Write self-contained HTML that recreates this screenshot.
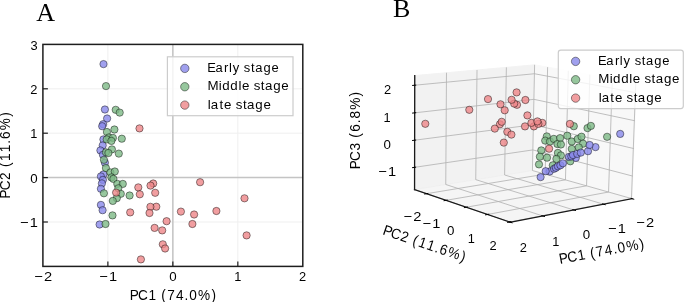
<!DOCTYPE html>
<html><head><meta charset="utf-8"><title>PCA figure</title>
<style>html,body{margin:0;padding:0;background:#fff;width:685px;height:302px;overflow:hidden}</style>
</head><body>
<svg width="685" height="302" viewBox="0 0 685 302" style="display:block"><rect x="0" y="0" width="685" height="302" fill="#fff"/>
<line x1="107.88" y1="44.40" x2="107.88" y2="266.40" stroke="#efefef" stroke-width="1.0"/>
<line x1="172.85" y1="44.40" x2="172.85" y2="266.40" stroke="#efefef" stroke-width="1.0"/>
<line x1="237.83" y1="44.40" x2="237.83" y2="266.40" stroke="#efefef" stroke-width="1.0"/>
<line x1="42.90" y1="222.00" x2="302.80" y2="222.00" stroke="#efefef" stroke-width="1.0"/>
<line x1="42.90" y1="177.60" x2="302.80" y2="177.60" stroke="#efefef" stroke-width="1.0"/>
<line x1="42.90" y1="133.20" x2="302.80" y2="133.20" stroke="#efefef" stroke-width="1.0"/>
<line x1="42.90" y1="88.80" x2="302.80" y2="88.80" stroke="#efefef" stroke-width="1.0"/>
<line x1="42.90" y1="177.60" x2="302.80" y2="177.60" stroke="#c4c4c4" stroke-width="1.5"/>
<line x1="172.85" y1="44.40" x2="172.85" y2="266.40" stroke="#c4c4c4" stroke-width="1.5"/>
<circle cx="103.50" cy="64.10" r="3.65" fill="#8888ea" fill-opacity="0.8" stroke="rgba(0,0,0,0.55)" stroke-width="0.8"/>
<circle cx="104.90" cy="109.50" r="3.65" fill="#8888ea" fill-opacity="0.8" stroke="rgba(0,0,0,0.55)" stroke-width="0.8"/>
<circle cx="107.10" cy="118.50" r="3.65" fill="#8888ea" fill-opacity="0.8" stroke="rgba(0,0,0,0.55)" stroke-width="0.8"/>
<circle cx="103.10" cy="124.20" r="3.65" fill="#8888ea" fill-opacity="0.8" stroke="rgba(0,0,0,0.55)" stroke-width="0.8"/>
<circle cx="102.20" cy="126.20" r="3.65" fill="#8888ea" fill-opacity="0.8" stroke="rgba(0,0,0,0.55)" stroke-width="0.8"/>
<circle cx="103.40" cy="139.40" r="3.65" fill="#8888ea" fill-opacity="0.8" stroke="rgba(0,0,0,0.55)" stroke-width="0.8"/>
<circle cx="102.70" cy="145.40" r="3.65" fill="#8888ea" fill-opacity="0.8" stroke="rgba(0,0,0,0.55)" stroke-width="0.8"/>
<circle cx="100.40" cy="150.40" r="3.65" fill="#8888ea" fill-opacity="0.8" stroke="rgba(0,0,0,0.55)" stroke-width="0.8"/>
<circle cx="102.90" cy="154.80" r="3.65" fill="#8888ea" fill-opacity="0.8" stroke="rgba(0,0,0,0.55)" stroke-width="0.8"/>
<circle cx="104.90" cy="162.70" r="3.65" fill="#8888ea" fill-opacity="0.8" stroke="rgba(0,0,0,0.55)" stroke-width="0.8"/>
<circle cx="103.40" cy="174.40" r="3.65" fill="#8888ea" fill-opacity="0.8" stroke="rgba(0,0,0,0.55)" stroke-width="0.8"/>
<circle cx="100.90" cy="176.40" r="3.65" fill="#8888ea" fill-opacity="0.8" stroke="rgba(0,0,0,0.55)" stroke-width="0.8"/>
<circle cx="102.90" cy="179.90" r="3.65" fill="#8888ea" fill-opacity="0.8" stroke="rgba(0,0,0,0.55)" stroke-width="0.8"/>
<circle cx="101.90" cy="183.40" r="3.65" fill="#8888ea" fill-opacity="0.8" stroke="rgba(0,0,0,0.55)" stroke-width="0.8"/>
<circle cx="100.90" cy="188.80" r="3.65" fill="#8888ea" fill-opacity="0.8" stroke="rgba(0,0,0,0.55)" stroke-width="0.8"/>
<circle cx="100.90" cy="204.90" r="3.65" fill="#8888ea" fill-opacity="0.8" stroke="rgba(0,0,0,0.55)" stroke-width="0.8"/>
<circle cx="102.60" cy="210.20" r="3.65" fill="#8888ea" fill-opacity="0.8" stroke="rgba(0,0,0,0.55)" stroke-width="0.8"/>
<circle cx="99.60" cy="224.50" r="3.65" fill="#8888ea" fill-opacity="0.8" stroke="rgba(0,0,0,0.55)" stroke-width="0.8"/>
<circle cx="106.00" cy="86.10" r="3.65" fill="#7db986" fill-opacity="0.8" stroke="rgba(0,0,0,0.55)" stroke-width="0.8"/>
<circle cx="115.70" cy="109.80" r="3.65" fill="#7db986" fill-opacity="0.8" stroke="rgba(0,0,0,0.55)" stroke-width="0.8"/>
<circle cx="119.70" cy="112.60" r="3.65" fill="#7db986" fill-opacity="0.8" stroke="rgba(0,0,0,0.55)" stroke-width="0.8"/>
<circle cx="114.40" cy="129.50" r="3.65" fill="#7db986" fill-opacity="0.8" stroke="rgba(0,0,0,0.55)" stroke-width="0.8"/>
<circle cx="106.90" cy="132.00" r="3.65" fill="#7db986" fill-opacity="0.8" stroke="rgba(0,0,0,0.55)" stroke-width="0.8"/>
<circle cx="108.90" cy="137.40" r="3.65" fill="#7db986" fill-opacity="0.8" stroke="rgba(0,0,0,0.55)" stroke-width="0.8"/>
<circle cx="106.70" cy="139.40" r="3.65" fill="#7db986" fill-opacity="0.8" stroke="rgba(0,0,0,0.55)" stroke-width="0.8"/>
<circle cx="112.90" cy="137.90" r="3.65" fill="#7db986" fill-opacity="0.8" stroke="rgba(0,0,0,0.55)" stroke-width="0.8"/>
<circle cx="111.40" cy="140.90" r="3.65" fill="#7db986" fill-opacity="0.8" stroke="rgba(0,0,0,0.55)" stroke-width="0.8"/>
<circle cx="121.80" cy="138.70" r="3.65" fill="#7db986" fill-opacity="0.8" stroke="rgba(0,0,0,0.55)" stroke-width="0.8"/>
<circle cx="111.90" cy="149.40" r="3.65" fill="#7db986" fill-opacity="0.8" stroke="rgba(0,0,0,0.55)" stroke-width="0.8"/>
<circle cx="105.90" cy="152.30" r="3.65" fill="#7db986" fill-opacity="0.8" stroke="rgba(0,0,0,0.55)" stroke-width="0.8"/>
<circle cx="108.40" cy="153.00" r="3.65" fill="#7db986" fill-opacity="0.8" stroke="rgba(0,0,0,0.55)" stroke-width="0.8"/>
<circle cx="118.80" cy="153.60" r="3.65" fill="#7db986" fill-opacity="0.8" stroke="rgba(0,0,0,0.55)" stroke-width="0.8"/>
<circle cx="103.90" cy="159.80" r="3.65" fill="#7db986" fill-opacity="0.8" stroke="rgba(0,0,0,0.55)" stroke-width="0.8"/>
<circle cx="105.90" cy="168.00" r="3.65" fill="#7db986" fill-opacity="0.8" stroke="rgba(0,0,0,0.55)" stroke-width="0.8"/>
<circle cx="110.40" cy="172.40" r="3.65" fill="#7db986" fill-opacity="0.8" stroke="rgba(0,0,0,0.55)" stroke-width="0.8"/>
<circle cx="114.80" cy="171.50" r="3.65" fill="#7db986" fill-opacity="0.8" stroke="rgba(0,0,0,0.55)" stroke-width="0.8"/>
<circle cx="111.40" cy="177.40" r="3.65" fill="#7db986" fill-opacity="0.8" stroke="rgba(0,0,0,0.55)" stroke-width="0.8"/>
<circle cx="113.40" cy="178.90" r="3.65" fill="#7db986" fill-opacity="0.8" stroke="rgba(0,0,0,0.55)" stroke-width="0.8"/>
<circle cx="117.30" cy="183.90" r="3.65" fill="#7db986" fill-opacity="0.8" stroke="rgba(0,0,0,0.55)" stroke-width="0.8"/>
<circle cx="122.80" cy="183.90" r="3.65" fill="#7db986" fill-opacity="0.8" stroke="rgba(0,0,0,0.55)" stroke-width="0.8"/>
<circle cx="118.30" cy="188.30" r="3.65" fill="#7db986" fill-opacity="0.8" stroke="rgba(0,0,0,0.55)" stroke-width="0.8"/>
<circle cx="103.90" cy="193.30" r="3.65" fill="#7db986" fill-opacity="0.8" stroke="rgba(0,0,0,0.55)" stroke-width="0.8"/>
<circle cx="120.80" cy="193.80" r="3.65" fill="#7db986" fill-opacity="0.8" stroke="rgba(0,0,0,0.55)" stroke-width="0.8"/>
<circle cx="129.60" cy="195.50" r="3.65" fill="#7db986" fill-opacity="0.8" stroke="rgba(0,0,0,0.55)" stroke-width="0.8"/>
<circle cx="116.80" cy="198.20" r="3.65" fill="#7db986" fill-opacity="0.8" stroke="rgba(0,0,0,0.55)" stroke-width="0.8"/>
<circle cx="112.80" cy="200.90" r="3.65" fill="#7db986" fill-opacity="0.8" stroke="rgba(0,0,0,0.55)" stroke-width="0.8"/>
<circle cx="112.50" cy="215.40" r="3.65" fill="#7db986" fill-opacity="0.8" stroke="rgba(0,0,0,0.55)" stroke-width="0.8"/>
<circle cx="105.50" cy="224.00" r="3.65" fill="#7db986" fill-opacity="0.8" stroke="rgba(0,0,0,0.55)" stroke-width="0.8"/>
<circle cx="139.50" cy="128.40" r="3.65" fill="#ee8688" fill-opacity="0.8" stroke="rgba(0,0,0,0.55)" stroke-width="0.8"/>
<circle cx="138.30" cy="187.40" r="3.65" fill="#ee8688" fill-opacity="0.8" stroke="rgba(0,0,0,0.55)" stroke-width="0.8"/>
<circle cx="139.80" cy="194.30" r="3.65" fill="#ee8688" fill-opacity="0.8" stroke="rgba(0,0,0,0.55)" stroke-width="0.8"/>
<circle cx="153.20" cy="183.50" r="3.65" fill="#ee8688" fill-opacity="0.8" stroke="rgba(0,0,0,0.55)" stroke-width="0.8"/>
<circle cx="150.50" cy="185.60" r="3.65" fill="#ee8688" fill-opacity="0.8" stroke="rgba(0,0,0,0.55)" stroke-width="0.8"/>
<circle cx="155.20" cy="192.80" r="3.65" fill="#ee8688" fill-opacity="0.8" stroke="rgba(0,0,0,0.55)" stroke-width="0.8"/>
<circle cx="116.10" cy="192.60" r="3.65" fill="#ee8688" fill-opacity="0.8" stroke="rgba(0,0,0,0.55)" stroke-width="0.8"/>
<circle cx="130.20" cy="212.40" r="3.65" fill="#ee8688" fill-opacity="0.8" stroke="rgba(0,0,0,0.55)" stroke-width="0.8"/>
<circle cx="156.30" cy="206.70" r="3.65" fill="#ee8688" fill-opacity="0.8" stroke="rgba(0,0,0,0.55)" stroke-width="0.8"/>
<circle cx="150.40" cy="206.80" r="3.65" fill="#ee8688" fill-opacity="0.8" stroke="rgba(0,0,0,0.55)" stroke-width="0.8"/>
<circle cx="149.50" cy="213.00" r="3.65" fill="#ee8688" fill-opacity="0.8" stroke="rgba(0,0,0,0.55)" stroke-width="0.8"/>
<circle cx="166.60" cy="221.20" r="3.65" fill="#ee8688" fill-opacity="0.8" stroke="rgba(0,0,0,0.55)" stroke-width="0.8"/>
<circle cx="154.60" cy="227.90" r="3.65" fill="#ee8688" fill-opacity="0.8" stroke="rgba(0,0,0,0.55)" stroke-width="0.8"/>
<circle cx="162.20" cy="230.40" r="3.65" fill="#ee8688" fill-opacity="0.8" stroke="rgba(0,0,0,0.55)" stroke-width="0.8"/>
<circle cx="162.80" cy="244.30" r="3.65" fill="#ee8688" fill-opacity="0.8" stroke="rgba(0,0,0,0.55)" stroke-width="0.8"/>
<circle cx="165.10" cy="248.50" r="3.65" fill="#ee8688" fill-opacity="0.8" stroke="rgba(0,0,0,0.55)" stroke-width="0.8"/>
<circle cx="140.90" cy="259.40" r="3.65" fill="#ee8688" fill-opacity="0.8" stroke="rgba(0,0,0,0.55)" stroke-width="0.8"/>
<circle cx="180.90" cy="211.60" r="3.65" fill="#ee8688" fill-opacity="0.8" stroke="rgba(0,0,0,0.55)" stroke-width="0.8"/>
<circle cx="194.10" cy="214.50" r="3.65" fill="#ee8688" fill-opacity="0.8" stroke="rgba(0,0,0,0.55)" stroke-width="0.8"/>
<circle cx="192.40" cy="224.00" r="3.65" fill="#ee8688" fill-opacity="0.8" stroke="rgba(0,0,0,0.55)" stroke-width="0.8"/>
<circle cx="200.10" cy="182.20" r="3.65" fill="#ee8688" fill-opacity="0.8" stroke="rgba(0,0,0,0.55)" stroke-width="0.8"/>
<circle cx="216.40" cy="211.00" r="3.65" fill="#ee8688" fill-opacity="0.8" stroke="rgba(0,0,0,0.55)" stroke-width="0.8"/>
<circle cx="244.50" cy="198.30" r="3.65" fill="#ee8688" fill-opacity="0.8" stroke="rgba(0,0,0,0.55)" stroke-width="0.8"/>
<circle cx="246.60" cy="235.40" r="3.65" fill="#ee8688" fill-opacity="0.8" stroke="rgba(0,0,0,0.55)" stroke-width="0.8"/>
<line x1="107.88" y1="266.40" x2="107.88" y2="261.40" stroke="#1e1e1e" stroke-width="1.2"/>
<line x1="172.85" y1="266.40" x2="172.85" y2="261.40" stroke="#1e1e1e" stroke-width="1.2"/>
<line x1="237.83" y1="266.40" x2="237.83" y2="261.40" stroke="#1e1e1e" stroke-width="1.2"/>
<line x1="42.90" y1="222.00" x2="47.90" y2="222.00" stroke="#1e1e1e" stroke-width="1.2"/>
<line x1="42.90" y1="177.60" x2="47.90" y2="177.60" stroke="#1e1e1e" stroke-width="1.2"/>
<line x1="42.90" y1="133.20" x2="47.90" y2="133.20" stroke="#1e1e1e" stroke-width="1.2"/>
<line x1="42.90" y1="88.80" x2="47.90" y2="88.80" stroke="#1e1e1e" stroke-width="1.2"/>
<rect x="42.9" y="44.4" width="259.90000000000003" height="221.99999999999997" fill="none" stroke="#1e1e1e" stroke-width="1.5"/>
<rect x="167.4" y="56.8" width="125.6" height="58.9" rx="0" fill="#fff" fill-opacity="0.8" stroke="#cccccc" stroke-width="1.2"/>
<circle cx="184.80" cy="68.40" r="4.20" fill="#8888ea" fill-opacity="0.8" stroke="rgba(0,0,0,0.55)" stroke-width="0.8"/>
<circle cx="184.80" cy="86.75" r="4.20" fill="#7db986" fill-opacity="0.8" stroke="rgba(0,0,0,0.55)" stroke-width="0.8"/>
<circle cx="184.80" cy="105.10" r="4.20" fill="#ee8688" fill-opacity="0.8" stroke="rgba(0,0,0,0.55)" stroke-width="0.8"/>
<g id="ax3d"> <g id="pane3d_1"> <g id="patch_3"> <path d="M 532.424653 170.516961 L 632.010458 198.673229 L 636.315801 82.919027 L 534.622697 64.818701 " style="fill: #f2f2f2; opacity: 0.5; stroke: #f2f2f2; stroke-linejoin: miter"/> </g> </g> <g id="pane3d_2"> <g id="patch_4"> <path d="M 532.424653 170.516961 L 414.558358 189.51649 L 414.739932 75.593142 L 534.622697 64.818701 " style="fill: #e6e6e6; opacity: 0.5; stroke: #e6e6e6; stroke-linejoin: miter"/> </g> </g> <g id="pane3d_3"> <g id="patch_5"> <path d="M 532.424653 170.516961 L 414.558358 189.51649 L 510.317033 222.189161 L 632.010458 198.673229 " style="fill: #ececec; opacity: 0.5; stroke: #ececec; stroke-linejoin: miter"/> </g> </g> <g id="grid3d_1"> <g id="Line3DCollection_1"> <path d="M 632.010458 198.673229 L 532.424653 170.516961 L 534.622697 64.818701 " style="fill: none; stroke: #b0b0b0; stroke-width: 0.8"/> <path d="M 603.474852 204.187425 L 504.619707 174.998996 L 506.371727 67.357751 " style="fill: none; stroke: #b0b0b0; stroke-width: 0.8"/> <path d="M 573.733905 209.93454 L 475.749451 179.652755 L 477.018988 69.995823 " style="fill: none; stroke: #b0b0b0; stroke-width: 0.8"/> <path d="M 542.709598 215.92965 L 445.751466 184.488298 L 446.498746 72.738824 " style="fill: none; stroke: #b0b0b0; stroke-width: 0.8"/> <path d="M 510.317033 222.189161 L 414.558358 189.51649 L 414.739932 75.593142 " style="fill: none; stroke: #b0b0b0; stroke-width: 0.8"/> </g> </g> <g id="grid3d_2"> <g id="Line3DCollection_2"> <path d="M 547.614573 67.131121 L 545.16613 174.119407 L 426.726385 193.668197 " style="fill: none; stroke: #b0b0b0; stroke-width: 0.8"/> <path d="M 568.319838 70.816445 L 565.460925 179.85743 L 446.158285 200.298323 " style="fill: none; stroke: #b0b0b0; stroke-width: 0.8"/> <path d="M 589.87628 74.65327 L 586.575141 185.827132 L 466.440905 207.218713 " style="fill: none; stroke: #b0b0b0; stroke-width: 0.8"/> <path d="M 612.337488 78.651134 L 608.559428 192.042831 L 487.631362 214.448855 " style="fill: none; stroke: #b0b0b0; stroke-width: 0.8"/> <path d="M 635.761644 82.820393 L 631.468698 198.520055 L 509.792002 222.010022 " style="fill: none; stroke: #b0b0b0; stroke-width: 0.8"/> </g> </g> <g id="grid3d_3"> <g id="Line3DCollection_3"> <path d="M 414.593717 167.331455 L 532.853166 149.910879 L 632.848648 176.137497 " style="fill: none; stroke: #b0b0b0; stroke-width: 0.8"/> <path d="M 414.636951 140.205376 L 533.376806 124.730394 L 633.873663 148.578778 " style="fill: none; stroke: #b0b0b0; stroke-width: 0.8"/> <path d="M 414.680569 112.838548 L 533.904746 99.343113 L 634.907934 120.771194 " style="fill: none; stroke: #b0b0b0; stroke-width: 0.8"/> <path d="M 414.724576 85.227755 L 534.43704 73.746478 L 635.951587 92.71136 " style="fill: none; stroke: #b0b0b0; stroke-width: 0.8"/> </g> </g> <g id="axis3d_1"> <g id="line2d_1"> <path d="M 632.010458 198.673229 L 510.317033 222.189161 " style="fill: none; stroke: #1a1a1a; stroke-width: 1.3; stroke-linecap: square"/> </g> <g id="xtick_1"> <g id="line2d_2"> <path d="M 631.136127 198.426026 L 633.763253 199.168803 " style="fill: none; stroke: #000000; stroke-linecap: square"/> </g> </g> <g id="xtick_2"> <g id="line2d_3"> <path d="M 602.605343 203.930689 L 605.218065 204.702134 " style="fill: none; stroke: #000000; stroke-linecap: square"/> </g> </g> <g id="xtick_3"> <g id="line2d_4"> <path d="M 572.870409 209.667679 L 575.465152 210.469576 " style="fill: none; stroke: #000000; stroke-linecap: square"/> </g> </g> <g id="xtick_4"> <g id="line2d_5"> <path d="M 541.853448 215.65202 L 544.426208 216.486308 " style="fill: none; stroke: #000000; stroke-linecap: square"/> </g> </g> <g id="xtick_5"> <g id="line2d_6"> <path d="M 509.469723 221.900061 L 512.016012 222.76885 " style="fill: none; stroke: #000000; stroke-linecap: square"/> </g> </g> </g> <g id="axis3d_2"> <g id="line2d_7"> <path d="M 414.558358 189.51649 L 510.317033 222.189161 " style="fill: none; stroke: #1a1a1a; stroke-width: 1.3; stroke-linecap: square"/> </g> <g id="xtick_6"> <g id="line2d_8"> <path d="M 427.749767 193.499285 L 424.67565 194.006676 " style="fill: none; stroke: #000000; stroke-linecap: square"/> </g> </g> <g id="xtick_7"> <g id="line2d_9"> <path d="M 447.190758 200.121422 L 444.089244 200.652825 " style="fill: none; stroke: #000000; stroke-linecap: square"/> </g> </g> <g id="xtick_8"> <g id="line2d_10"> <path d="M 467.482294 207.033279 L 464.353906 207.590332 " style="fill: none; stroke: #000000; stroke-linecap: square"/> </g> </g> <g id="xtick_9"> <g id="line2d_11"> <path d="M 488.68144 214.254292 L 485.526854 214.838786 " style="fill: none; stroke: #000000; stroke-linecap: square"/> </g> </g> <g id="xtick_10"> <g id="line2d_12"> <path d="M 510.850484 221.805679 L 507.670552 222.419573 " style="fill: none; stroke: #000000; stroke-linecap: square"/> </g> </g> </g> <g id="axis3d_3"> <g id="line2d_13"> <path d="M 414.558358 189.51649 L 414.739932 75.593142 " style="fill: none; stroke: #1a1a1a; stroke-width: 1.3; stroke-linecap: square"/> </g> <g id="xtick_11"> <g id="line2d_14"> <path d="M 415.614796 167.181042 L 412.547634 167.63286 " style="fill: none; stroke: #000000; stroke-linecap: square"/> </g> </g> <g id="xtick_12"> <g id="line2d_15"> <path d="M 415.662511 140.071718 L 412.581873 140.473207 " style="fill: none; stroke: #000000; stroke-linecap: square"/> </g> </g> <g id="xtick_13"> <g id="line2d_16"> <path d="M 415.710649 112.72195 L 412.616416 113.072198 " style="fill: none; stroke: #000000; stroke-linecap: square"/> </g> </g> <g id="xtick_14"> <g id="line2d_17"> <path d="M 415.759216 85.128525 L 412.651267 85.4266 " style="fill: none; stroke: #000000; stroke-linecap: square"/> </g> </g> </g> <g id="axes_1"/> </g>
<circle cx="573.80" cy="126.20" r="3.65" fill="#7db986" fill-opacity="0.8" stroke="rgba(0,0,0,0.55)" stroke-width="0.8"/>
<circle cx="587.50" cy="128.10" r="3.65" fill="#7db986" fill-opacity="0.8" stroke="rgba(0,0,0,0.55)" stroke-width="0.8"/>
<circle cx="590.90" cy="125.90" r="3.65" fill="#7db986" fill-opacity="0.8" stroke="rgba(0,0,0,0.55)" stroke-width="0.8"/>
<circle cx="607.10" cy="136.80" r="3.65" fill="#7db986" fill-opacity="0.8" stroke="rgba(0,0,0,0.55)" stroke-width="0.8"/>
<circle cx="546.80" cy="136.40" r="3.65" fill="#7db986" fill-opacity="0.8" stroke="rgba(0,0,0,0.55)" stroke-width="0.8"/>
<circle cx="545.20" cy="140.60" r="3.65" fill="#7db986" fill-opacity="0.8" stroke="rgba(0,0,0,0.55)" stroke-width="0.8"/>
<circle cx="550.00" cy="141.50" r="3.65" fill="#7db986" fill-opacity="0.8" stroke="rgba(0,0,0,0.55)" stroke-width="0.8"/>
<circle cx="553.80" cy="138.90" r="3.65" fill="#7db986" fill-opacity="0.8" stroke="rgba(0,0,0,0.55)" stroke-width="0.8"/>
<circle cx="560.10" cy="138.10" r="3.65" fill="#7db986" fill-opacity="0.8" stroke="rgba(0,0,0,0.55)" stroke-width="0.8"/>
<circle cx="557.40" cy="144.00" r="3.65" fill="#7db986" fill-opacity="0.8" stroke="rgba(0,0,0,0.55)" stroke-width="0.8"/>
<circle cx="560.90" cy="144.50" r="3.65" fill="#7db986" fill-opacity="0.8" stroke="rgba(0,0,0,0.55)" stroke-width="0.8"/>
<circle cx="567.30" cy="135.70" r="3.65" fill="#7db986" fill-opacity="0.8" stroke="rgba(0,0,0,0.55)" stroke-width="0.8"/>
<circle cx="571.80" cy="141.50" r="3.65" fill="#7db986" fill-opacity="0.8" stroke="rgba(0,0,0,0.55)" stroke-width="0.8"/>
<circle cx="577.70" cy="139.00" r="3.65" fill="#7db986" fill-opacity="0.8" stroke="rgba(0,0,0,0.55)" stroke-width="0.8"/>
<circle cx="581.50" cy="136.70" r="3.65" fill="#7db986" fill-opacity="0.8" stroke="rgba(0,0,0,0.55)" stroke-width="0.8"/>
<circle cx="583.10" cy="143.70" r="3.65" fill="#7db986" fill-opacity="0.8" stroke="rgba(0,0,0,0.55)" stroke-width="0.8"/>
<circle cx="571.80" cy="148.90" r="3.65" fill="#7db986" fill-opacity="0.8" stroke="rgba(0,0,0,0.55)" stroke-width="0.8"/>
<circle cx="578.80" cy="147.40" r="3.65" fill="#7db986" fill-opacity="0.8" stroke="rgba(0,0,0,0.55)" stroke-width="0.8"/>
<circle cx="541.30" cy="150.40" r="3.65" fill="#7db986" fill-opacity="0.8" stroke="rgba(0,0,0,0.55)" stroke-width="0.8"/>
<circle cx="539.90" cy="156.70" r="3.65" fill="#7db986" fill-opacity="0.8" stroke="rgba(0,0,0,0.55)" stroke-width="0.8"/>
<circle cx="547.00" cy="157.70" r="3.65" fill="#7db986" fill-opacity="0.8" stroke="rgba(0,0,0,0.55)" stroke-width="0.8"/>
<circle cx="557.90" cy="152.90" r="3.65" fill="#7db986" fill-opacity="0.8" stroke="rgba(0,0,0,0.55)" stroke-width="0.8"/>
<circle cx="560.90" cy="155.40" r="3.65" fill="#7db986" fill-opacity="0.8" stroke="rgba(0,0,0,0.55)" stroke-width="0.8"/>
<circle cx="556.40" cy="158.90" r="3.65" fill="#7db986" fill-opacity="0.8" stroke="rgba(0,0,0,0.55)" stroke-width="0.8"/>
<circle cx="539.00" cy="164.40" r="3.65" fill="#7db986" fill-opacity="0.8" stroke="rgba(0,0,0,0.55)" stroke-width="0.8"/>
<circle cx="552.80" cy="165.30" r="3.65" fill="#7db986" fill-opacity="0.8" stroke="rgba(0,0,0,0.55)" stroke-width="0.8"/>
<circle cx="570.30" cy="161.30" r="3.65" fill="#7db986" fill-opacity="0.8" stroke="rgba(0,0,0,0.55)" stroke-width="0.8"/>
<circle cx="425.30" cy="123.80" r="3.65" fill="#ee8688" fill-opacity="0.8" stroke="rgba(0,0,0,0.55)" stroke-width="0.8"/>
<circle cx="469.30" cy="109.80" r="3.65" fill="#ee8688" fill-opacity="0.8" stroke="rgba(0,0,0,0.55)" stroke-width="0.8"/>
<circle cx="488.00" cy="99.10" r="3.65" fill="#ee8688" fill-opacity="0.8" stroke="rgba(0,0,0,0.55)" stroke-width="0.8"/>
<circle cx="516.60" cy="92.40" r="3.65" fill="#ee8688" fill-opacity="0.8" stroke="rgba(0,0,0,0.55)" stroke-width="0.8"/>
<circle cx="517.00" cy="104.80" r="3.65" fill="#ee8688" fill-opacity="0.8" stroke="rgba(0,0,0,0.55)" stroke-width="0.8"/>
<circle cx="514.20" cy="103.60" r="3.65" fill="#ee8688" fill-opacity="0.8" stroke="rgba(0,0,0,0.55)" stroke-width="0.8"/>
<circle cx="511.60" cy="99.80" r="3.65" fill="#ee8688" fill-opacity="0.8" stroke="rgba(0,0,0,0.55)" stroke-width="0.8"/>
<circle cx="525.40" cy="100.00" r="3.65" fill="#ee8688" fill-opacity="0.8" stroke="rgba(0,0,0,0.55)" stroke-width="0.8"/>
<circle cx="500.50" cy="104.30" r="3.65" fill="#ee8688" fill-opacity="0.8" stroke="rgba(0,0,0,0.55)" stroke-width="0.8"/>
<circle cx="504.70" cy="110.30" r="3.65" fill="#ee8688" fill-opacity="0.8" stroke="rgba(0,0,0,0.55)" stroke-width="0.8"/>
<circle cx="527.40" cy="115.40" r="3.65" fill="#ee8688" fill-opacity="0.8" stroke="rgba(0,0,0,0.55)" stroke-width="0.8"/>
<circle cx="499.90" cy="124.30" r="3.65" fill="#ee8688" fill-opacity="0.8" stroke="rgba(0,0,0,0.55)" stroke-width="0.8"/>
<circle cx="501.70" cy="121.80" r="3.65" fill="#ee8688" fill-opacity="0.8" stroke="rgba(0,0,0,0.55)" stroke-width="0.8"/>
<circle cx="494.80" cy="128.60" r="3.65" fill="#ee8688" fill-opacity="0.8" stroke="rgba(0,0,0,0.55)" stroke-width="0.8"/>
<circle cx="525.00" cy="126.40" r="3.65" fill="#ee8688" fill-opacity="0.8" stroke="rgba(0,0,0,0.55)" stroke-width="0.8"/>
<circle cx="507.30" cy="131.80" r="3.65" fill="#ee8688" fill-opacity="0.8" stroke="rgba(0,0,0,0.55)" stroke-width="0.8"/>
<circle cx="511.40" cy="134.60" r="3.65" fill="#ee8688" fill-opacity="0.8" stroke="rgba(0,0,0,0.55)" stroke-width="0.8"/>
<circle cx="503.80" cy="142.60" r="3.65" fill="#ee8688" fill-opacity="0.8" stroke="rgba(0,0,0,0.55)" stroke-width="0.8"/>
<circle cx="533.90" cy="126.40" r="3.65" fill="#ee8688" fill-opacity="0.8" stroke="rgba(0,0,0,0.55)" stroke-width="0.8"/>
<circle cx="531.40" cy="122.90" r="3.65" fill="#ee8688" fill-opacity="0.8" stroke="rgba(0,0,0,0.55)" stroke-width="0.8"/>
<circle cx="542.30" cy="122.90" r="3.65" fill="#ee8688" fill-opacity="0.8" stroke="rgba(0,0,0,0.55)" stroke-width="0.8"/>
<circle cx="538.40" cy="123.90" r="3.65" fill="#ee8688" fill-opacity="0.8" stroke="rgba(0,0,0,0.55)" stroke-width="0.8"/>
<circle cx="537.40" cy="121.40" r="3.65" fill="#ee8688" fill-opacity="0.8" stroke="rgba(0,0,0,0.55)" stroke-width="0.8"/>
<circle cx="569.90" cy="123.90" r="3.65" fill="#ee8688" fill-opacity="0.8" stroke="rgba(0,0,0,0.55)" stroke-width="0.8"/>
<circle cx="549.10" cy="148.70" r="3.65" fill="#ee8688" fill-opacity="0.8" stroke="rgba(0,0,0,0.55)" stroke-width="0.8"/>
<circle cx="540.60" cy="177.10" r="3.65" fill="#8888ea" fill-opacity="0.8" stroke="rgba(0,0,0,0.55)" stroke-width="0.8"/>
<circle cx="549.70" cy="171.50" r="3.65" fill="#8888ea" fill-opacity="0.8" stroke="rgba(0,0,0,0.55)" stroke-width="0.8"/>
<circle cx="545.70" cy="171.20" r="3.65" fill="#8888ea" fill-opacity="0.8" stroke="rgba(0,0,0,0.55)" stroke-width="0.8"/>
<circle cx="554.00" cy="168.80" r="3.65" fill="#8888ea" fill-opacity="0.8" stroke="rgba(0,0,0,0.55)" stroke-width="0.8"/>
<circle cx="555.90" cy="167.80" r="3.65" fill="#8888ea" fill-opacity="0.8" stroke="rgba(0,0,0,0.55)" stroke-width="0.8"/>
<circle cx="557.90" cy="166.30" r="3.65" fill="#8888ea" fill-opacity="0.8" stroke="rgba(0,0,0,0.55)" stroke-width="0.8"/>
<circle cx="560.40" cy="165.30" r="3.65" fill="#8888ea" fill-opacity="0.8" stroke="rgba(0,0,0,0.55)" stroke-width="0.8"/>
<circle cx="562.90" cy="163.30" r="3.65" fill="#8888ea" fill-opacity="0.8" stroke="rgba(0,0,0,0.55)" stroke-width="0.8"/>
<circle cx="575.80" cy="157.90" r="3.65" fill="#8888ea" fill-opacity="0.8" stroke="rgba(0,0,0,0.55)" stroke-width="0.8"/>
<circle cx="568.90" cy="156.90" r="3.65" fill="#8888ea" fill-opacity="0.8" stroke="rgba(0,0,0,0.55)" stroke-width="0.8"/>
<circle cx="571.30" cy="156.40" r="3.65" fill="#8888ea" fill-opacity="0.8" stroke="rgba(0,0,0,0.55)" stroke-width="0.8"/>
<circle cx="573.00" cy="155.00" r="3.65" fill="#8888ea" fill-opacity="0.8" stroke="rgba(0,0,0,0.55)" stroke-width="0.8"/>
<circle cx="577.20" cy="153.90" r="3.65" fill="#8888ea" fill-opacity="0.8" stroke="rgba(0,0,0,0.55)" stroke-width="0.8"/>
<circle cx="580.80" cy="152.60" r="3.65" fill="#8888ea" fill-opacity="0.8" stroke="rgba(0,0,0,0.55)" stroke-width="0.8"/>
<circle cx="588.00" cy="151.20" r="3.65" fill="#8888ea" fill-opacity="0.8" stroke="rgba(0,0,0,0.55)" stroke-width="0.8"/>
<circle cx="595.50" cy="147.10" r="3.65" fill="#8888ea" fill-opacity="0.8" stroke="rgba(0,0,0,0.55)" stroke-width="0.8"/>
<circle cx="589.60" cy="145.00" r="3.65" fill="#8888ea" fill-opacity="0.8" stroke="rgba(0,0,0,0.55)" stroke-width="0.8"/>
<circle cx="620.20" cy="133.90" r="3.65" fill="#8888ea" fill-opacity="0.8" stroke="rgba(0,0,0,0.55)" stroke-width="0.8"/>
<rect x="558.3" y="50.1" width="125.0" height="58.5" rx="2.5" fill="#fff" fill-opacity="0.8" stroke="#cccccc" stroke-width="1.2"/>
<circle cx="575.60" cy="61.40" r="4.20" fill="#8888ea" fill-opacity="0.8" stroke="rgba(0,0,0,0.55)" stroke-width="0.8"/>
<circle cx="575.60" cy="79.75" r="4.20" fill="#7db986" fill-opacity="0.8" stroke="rgba(0,0,0,0.55)" stroke-width="0.8"/>
<circle cx="575.60" cy="98.10" r="4.20" fill="#ee8688" fill-opacity="0.8" stroke="rgba(0,0,0,0.55)" stroke-width="0.8"/>
<g opacity="0.999">
<text x="-7.65 0.99" y="0" font-family='"Liberation Sans", sans-serif' font-size="13.46" fill="#000" transform="translate(42.90 280.90) scale(1.0896 1)">−2</text>
<text x="-7.65 1.06" y="0" font-family='"Liberation Sans", sans-serif' font-size="13.46" fill="#000" transform="translate(107.88 280.90) scale(1.0893 1)">−1</text>
<text x="-3.74" y="0" font-family='"Liberation Sans", sans-serif' font-size="13.46" fill="#000" transform="translate(172.85 280.90) scale(0.9906 1)">0</text>
<text x="-3.81" y="0" font-family='"Liberation Sans", sans-serif' font-size="13.46" fill="#000" transform="translate(237.83 280.90) scale(0.9478 1)">1</text>
<text x="-3.92" y="0" font-family='"Liberation Sans", sans-serif' font-size="13.46" fill="#000" transform="translate(302.80 280.90) scale(0.9558 1)">2</text>
<text x="-16.25 -7.54" y="0" font-family='"Liberation Sans", sans-serif' font-size="13.46" fill="#000" transform="translate(38.00 227.10) scale(1.0893 1)">−1</text>
<text x="-7.82" y="0" font-family='"Liberation Sans", sans-serif' font-size="13.46" fill="#000" transform="translate(38.00 182.70) scale(0.9906 1)">0</text>
<text x="-8.07" y="0" font-family='"Liberation Sans", sans-serif' font-size="13.46" fill="#000" transform="translate(38.00 138.30) scale(0.9478 1)">1</text>
<text x="-8.14" y="0" font-family='"Liberation Sans", sans-serif' font-size="13.46" fill="#000" transform="translate(38.00 93.90) scale(0.9558 1)">2</text>
<text x="-7.96" y="0" font-family='"Liberation Sans", sans-serif' font-size="13.46" fill="#000" transform="translate(38.00 49.50) scale(0.9553 1)">3</text>
<text x="-46.79 -37.77 -26.51 -17.56 -12.67 -6.29 3.31 12.53 17.66 27.12 41.66" y="0" font-family='"Liberation Sans", sans-serif' font-size="14.73" fill="#000" transform="translate(173.00 299.60) scale(0.9249 1)">PC1 (74.0%)</text>
<text x="-46.95 -37.89 -26.72 -17.63 -12.71 -6.32 3.28 12.58 17.76 27.25 41.82" y="0" font-family='"Liberation Sans", sans-serif' font-size="14.73" fill="#000" transform="translate(10.20 155.30) rotate(-90.00) scale(0.9215 1)">PC2 (11.6%)</text>
<text x="-0.36 8.16 17.17 22.18 26.06 33.33 37.69 45.09 49.40 58.02 66.38" y="0" font-family='"Liberation Sans", sans-serif' font-size="13.46" fill="#000" transform="translate(207.60 71.90) scale(0.9622 1)">Early stage</text>
<text x="-0.07 11.37 14.88 23.02 31.20 34.71 42.38 46.52 53.76 57.88 66.28 74.40" y="0" font-family='"Liberation Sans", sans-serif' font-size="13.46" fill="#000" transform="translate(207.60 90.25) scale(0.9899 1)">Middle stage</text>
<text x="0.28 3.28 12.05 16.69 24.37 28.51 35.75 39.88 48.28 56.41" y="0" font-family='"Liberation Sans", sans-serif' font-size="13.46" fill="#000" transform="translate(207.60 108.60) scale(0.9893 1)">late stage</text>
<text x="-0.36 8.16 17.17 22.18 26.06 33.33 37.69 45.09 49.40 58.02 66.38" y="0" font-family='"Liberation Sans", sans-serif' font-size="13.46" fill="#000" transform="translate(598.40 64.90) scale(0.9622 1)">Early stage</text>
<text x="-0.07 11.37 14.88 23.02 31.20 34.71 42.38 46.52 53.76 57.88 66.28 74.40" y="0" font-family='"Liberation Sans", sans-serif' font-size="13.46" fill="#000" transform="translate(598.40 83.25) scale(0.9899 1)">Middle stage</text>
<text x="0.28 3.28 12.05 16.69 24.37 28.51 35.75 39.88 48.28 56.41" y="0" font-family='"Liberation Sans", sans-serif' font-size="13.46" fill="#000" transform="translate(598.40 101.60) scale(0.9893 1)">late stage</text>
<text x="-3.74" y="0" font-family='"Liberation Sans", sans-serif' font-size="13.46" fill="#000" transform="translate(387.50 94.35) scale(0.9558 1)">2</text>
<text x="-3.93" y="0" font-family='"Liberation Sans", sans-serif' font-size="13.46" fill="#000" transform="translate(387.20 121.95) scale(0.9478 1)">1</text>
<text x="-3.74" y="0" font-family='"Liberation Sans", sans-serif' font-size="13.46" fill="#000" transform="translate(387.20 149.05) scale(0.9906 1)">0</text>
<text x="-7.73 0.98" y="0" font-family='"Liberation Sans", sans-serif' font-size="13.46" fill="#000" transform="translate(387.00 175.75) scale(1.0893 1)">−1</text>
<text x="-7.69 0.95" y="0" font-family='"Liberation Sans", sans-serif' font-size="13.46" fill="#000" transform="translate(412.10 221.05) scale(1.0896 1)">−2</text>
<text x="-7.73 0.98" y="0" font-family='"Liberation Sans", sans-serif' font-size="13.46" fill="#000" transform="translate(431.20 227.95) scale(1.0893 1)">−1</text>
<text x="-3.74" y="0" font-family='"Liberation Sans", sans-serif' font-size="13.46" fill="#000" transform="translate(450.60 235.25) scale(0.9906 1)">0</text>
<text x="-3.93" y="0" font-family='"Liberation Sans", sans-serif' font-size="13.46" fill="#000" transform="translate(471.50 242.65) scale(0.9478 1)">1</text>
<text x="-3.74" y="0" font-family='"Liberation Sans", sans-serif' font-size="13.46" fill="#000" transform="translate(493.00 250.25) scale(0.9558 1)">2</text>
<text x="-3.74" y="0" font-family='"Liberation Sans", sans-serif' font-size="13.46" fill="#000" transform="translate(523.20 251.65) scale(0.9558 1)">2</text>
<text x="-3.93" y="0" font-family='"Liberation Sans", sans-serif' font-size="13.46" fill="#000" transform="translate(556.00 245.55) scale(0.9478 1)">1</text>
<text x="-3.74" y="0" font-family='"Liberation Sans", sans-serif' font-size="13.46" fill="#000" transform="translate(586.40 239.35) scale(0.9906 1)">0</text>
<text x="-7.73 0.98" y="0" font-family='"Liberation Sans", sans-serif' font-size="13.46" fill="#000" transform="translate(616.60 233.45) scale(1.0893 1)">−1</text>
<text x="-7.69 0.95" y="0" font-family='"Liberation Sans", sans-serif' font-size="13.46" fill="#000" transform="translate(644.90 227.35) scale(1.0896 1)">−2</text>
<text x="-41.97 -32.95 -21.63 -12.77 -7.88 -1.45 7.73 12.86 22.31 36.83" y="0" font-family='"Liberation Sans", sans-serif' font-size="14.73" fill="#000" transform="translate(359.60 130.50) rotate(-90.00) scale(0.9260 1)">PC3 (6.8%)</text>
<text x="-46.95 -37.89 -26.72 -17.63 -12.71 -6.32 3.28 12.58 17.76 27.25 41.82" y="0" font-family='"Liberation Sans", sans-serif' font-size="14.73" fill="#000" transform="translate(422.90 248.10) rotate(18.60) scale(0.9215 1)">PC2 (11.6%)</text>
<text x="-46.79 -37.77 -26.51 -17.56 -12.67 -6.29 3.31 12.53 17.66 27.12 41.66" y="0" font-family='"Liberation Sans", sans-serif' font-size="14.73" fill="#000" transform="translate(602.50 256.00) rotate(-10.60) scale(0.9249 1)">PC1 (74.0%)</text>
<text x="36.20" y="20.90" font-family='"Liberation Serif", serif' font-size="26.00" text-anchor="start" fill="#000">A</text>
<text x="393.00" y="16.90" font-family='"Liberation Serif", serif' font-size="26.00" text-anchor="start" fill="#000">B</text>
</g></svg>
</body></html>
